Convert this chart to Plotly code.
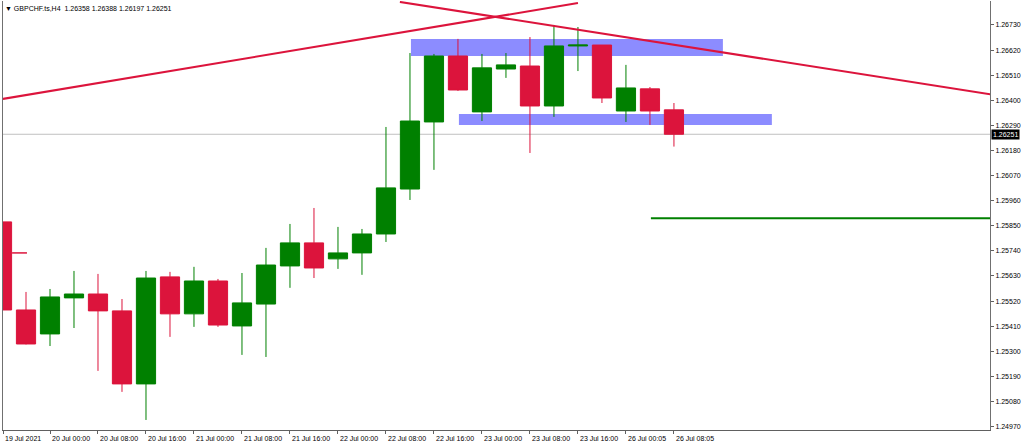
import plotly.graph_objects as go

# ---- data (H4 bars) ----
times = ["19 Jul 16:00", "19 Jul 20:00", "20 Jul 00:00", "20 Jul 04:00", "20 Jul 08:00", "20 Jul 12:00",
         "20 Jul 16:00", "20 Jul 20:00", "21 Jul 00:00", "21 Jul 04:00", "21 Jul 08:00", "21 Jul 12:00",
         "21 Jul 16:00", "21 Jul 20:00", "22 Jul 00:00", "22 Jul 04:00", "22 Jul 08:00", "22 Jul 12:00",
         "22 Jul 16:00", "22 Jul 20:00", "23 Jul 00:00", "23 Jul 04:00", "23 Jul 08:00", "23 Jul 12:00",
         "23 Jul 16:00", "23 Jul 20:00", "26 Jul 00:05", "26 Jul 04:05", "26 Jul 08:05"]
opens = [1.25867, 1.25481, 1.25376, 1.25534, 1.25551, 1.25477, 1.25157, 1.25626, 1.25464, 1.25608,
         1.25411, 1.25507, 1.25674, 1.25775, 1.25705, 1.25731, 1.25814, 1.26011, 1.26305, 1.26594,
         1.26349, 1.26537, 1.26550, 1.26375, 1.26638, 1.26642, 1.26353, 1.26450, 1.26358]
highs = [1.25880, 1.25560, 1.25573, 1.25652, 1.25639, 1.25529, 1.25652, 1.25648, 1.25670, 1.25617,
         1.25643, 1.25753, 1.25858, 1.25928, 1.25845, 1.25836, 1.26283, 1.26607, 1.26603, 1.26669,
         1.26603, 1.26607, 1.26677, 1.26730, 1.26721, 1.26642, 1.26555, 1.26458, 1.26388]
lows = [1.25367, 1.25330, 1.25323, 1.25402, 1.25214, 1.25122, 1.24999, 1.25363, 1.25407, 1.25407,
        1.25284, 1.25275, 1.25578, 1.25621, 1.25661, 1.25635, 1.25779, 1.25963, 1.26095, 1.26441,
        1.26309, 1.26498, 1.26169, 1.26327, 1.26528, 1.26388, 1.26305, 1.26292, 1.26197]
closes = [1.25481, 1.25332, 1.25538, 1.25551, 1.25477, 1.25157, 1.25621, 1.25464, 1.25608, 1.25415,
          1.25512, 1.25678, 1.25775, 1.25665, 1.25731, 1.25814, 1.26016, 1.26309, 1.26594, 1.26445,
          1.26542, 1.26555, 1.26375, 1.26638, 1.26642, 1.26410, 1.26454, 1.26353, 1.26251]

x_tick_pos = [0.05, 2, 4, 6, 8, 10, 12, 14, 16, 18, 20, 22, 24, 26, 28]
x_tick_labels = ["19 Jul 2021", "20 Jul 00:00", "20 Jul 08:00", "20 Jul 16:00", "21 Jul 00:00",
                 "21 Jul 08:00", "21 Jul 16:00", "22 Jul 00:00", "22 Jul 08:00", "22 Jul 16:00",
                 "23 Jul 00:00", "23 Jul 08:00", "23 Jul 16:00", "26 Jul 00:05", "26 Jul 08:05"]
y_ticks = [1.26730, 1.26620, 1.26510, 1.26400, 1.26290, 1.26180, 1.26070, 1.25960, 1.25850,
           1.25740, 1.25630, 1.25520, 1.25410, 1.25300, 1.25190, 1.25080, 1.24970]

current_price = 1.26251
header = "GBPCHF.ts,H4  1.26358 1.26388 1.26197 1.26251"

# drawn objects (bar-index, price)
trend_up_x = [0.04, 24.0]
trend_up_y = [1.26406, 1.26826]
trend_down_x = [16.58, 41.2]
trend_down_y = [1.26831, 1.26426]
level_green_x = [27.04, 41.2]
level_green_y = [1.25883, 1.25883]
level_red_x = [0.42, 1.04]
level_red_y = [1.25731, 1.25731]
zone_top = dict(x0=17.04, x1=30.04, y0=1.26594, y1=1.26669)
zone_bottom = dict(x0=19.04, x1=32.08, y0=1.26292, y1=1.26340)

UP = "#008000"
DN = "#DC143C"
FONT = "Liberation Sans, Arial, sans-serif"

idx = list(range(len(times)))

fig = go.Figure()
fig.add_trace(go.Candlestick(
    x=idx, open=opens, high=highs, low=lows, close=closes, text=times,
    increasing=dict(line=dict(color=UP, width=1), fillcolor=UP),
    decreasing=dict(line=dict(color=DN, width=1), fillcolor=DN),
    whiskerwidth=0, showlegend=False, hoverinfo="skip"))

for xs, ys, col, w in [(trend_up_x, trend_up_y, DN, 2), (trend_down_x, trend_down_y, DN, 2),
                       (level_green_x, level_green_y, UP, 2), (level_red_x, level_red_y, DN, 1.5)]:
    fig.add_trace(go.Scatter(x=xs, y=ys, mode="lines", line=dict(color=col, width=w),
                             showlegend=False, hoverinfo="skip"))

shapes = []
for z in (zone_top, zone_bottom):
    shapes.append(dict(type="rect", xref="x", yref="y", layer="below",
                       fillcolor="#8c8cff", line=dict(width=0), **z))
shapes.append(dict(type="line", xref="paper", yref="y", x0=0, x1=1, y0=current_price, y1=current_price,
                   line=dict(color="#c0c0c0", width=1), layer="below"))

annotations = []
for xp, lab in zip(x_tick_pos, x_tick_labels):
    annotations.append(dict(x=xp, y=0, xref="x", yref="paper", text=lab, showarrow=False,
                            xanchor="left", yanchor="top", xshift=0, yshift=-3,
                            font=dict(family=FONT, size=7, color="#000000")))
annotations.append(dict(x=0, y=1, xref="paper", yref="paper", text="▼ " + header, showarrow=False,
                        xanchor="left", yanchor="top", xshift=0, yshift=-2,
                        font=dict(family=FONT, size=7, color="#000000")))
annotations.append(dict(x=1, y=current_price, xref="paper", yref="y", text=f"{current_price:.5f}",
                        showarrow=False, xanchor="left", yanchor="middle", xshift=1,
                        bgcolor="#000000", borderpad=1,
                        font=dict(family=FONT, size=7, color="#ffffff")))

fig.update_layout(
    width=1024, height=447,
    margin=dict(l=3, r=34, t=1, b=17, autoexpand=False),
    paper_bgcolor="#ffffff", plot_bgcolor="#ffffff",
    hovermode=False, showlegend=False,
    boxgap=0.2, boxgroupgap=0,
    shapes=shapes, annotations=annotations,
    xaxis=dict(range=[0.0417, 41.17], rangeslider=dict(visible=False), showgrid=False, zeroline=False,
               showline=True, linecolor="#606060", linewidth=1,
               tickmode="array", tickvals=x_tick_pos, ticks="outside", ticklen=3, tickcolor="#606060",
               showticklabels=False),
    yaxis=dict(range=[1.24955, 1.26835], side="right", showgrid=False, zeroline=False,
               showline=True, mirror=True, linecolor="#707070", linewidth=1,
               tickmode="array", tickvals=y_ticks, ticktext=[f"{v:.5f}" for v in y_ticks],
               ticks="outside", ticklen=3, tickcolor="#606060",
               tickfont=dict(family=FONT, size=7, color="#000000")),
)

fig.write_html("out.html", config={"displayModeBar": False})

# remove the browser's default page margin so the figure sits at the window's top-left corner
with open("out.html", "r", encoding="utf-8") as fh:
    html = fh.read()
html = html.replace("<body>", '<body style="margin:0;padding:0;overflow:hidden">', 1)
with open("out.html", "w", encoding="utf-8") as fh:
    fh.write(html)
